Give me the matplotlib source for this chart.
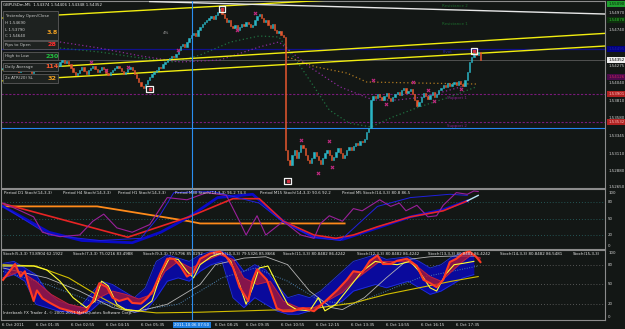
import numpy as np
import matplotlib.pyplot as plt
from matplotlib import font_manager
from matplotlib.patches import Rectangle
from matplotlib.transforms import blended_transform_factory

# --- Configuração da figura ---
W, H = 625, 329
BG = '#131715'
BORDER = '#8c8c8c'
TXT = '#e4e4e4'
UP = '#2ab4c4'
DOWN = '#e4572e'

_names = {f.name for f in font_manager.fontManager.ttflist}
FONT = 'Liberation Sans Narrow' if 'Liberation Sans Narrow' in _names else 'DejaVu Sans'
FS = 3.7 if FONT != 'DejaVu Sans' else 2.9

# --- Dados: GBPUSDm M5 (fechamentos) ---
FIRST_OPEN = 1.54231
CLOSES = [
    1.54244, 1.54271, 1.54218, 1.54258, 1.54297, 1.54271, 1.54231, 1.54192, 1.54218, 1.54258,
    1.54284, 1.54258, 1.54218, 1.54178, 1.54205, 1.54244, 1.54271, 1.54297, 1.54258, 1.54231,
    1.54271, 1.54310, 1.54284, 1.54244, 1.54218, 1.54271, 1.54324, 1.54350, 1.54310, 1.54337,
    1.54297, 1.54244, 1.54192, 1.54152, 1.54178, 1.54218, 1.54258, 1.54205, 1.54165, 1.54218,
    1.54244, 1.54271, 1.54231, 1.54192, 1.54218, 1.54258, 1.54231, 1.54178, 1.54152, 1.54192,
    1.54218, 1.54244, 1.54271, 1.54244, 1.54205, 1.54165, 1.54192, 1.54231, 1.54258, 1.54218,
    1.54165, 1.54112, 1.54060, 1.54007, 1.53980, 1.54033, 1.54086, 1.54126, 1.54165, 1.54192,
    1.54218, 1.54258, 1.54244, 1.54297, 1.54324, 1.54350, 1.54376, 1.54403, 1.54390, 1.54429,
    1.54482, 1.54535, 1.54561, 1.54522, 1.54588, 1.54640, 1.54680, 1.54706, 1.54667, 1.54746,
    1.54786, 1.54825, 1.54852, 1.54878, 1.54904, 1.54931, 1.54891, 1.54944, 1.54984, 1.55023,
    1.54957, 1.54904, 1.54852, 1.54878, 1.54799, 1.54772, 1.54812, 1.54746, 1.54786, 1.54825,
    1.54799, 1.54852, 1.54825, 1.54786, 1.54812, 1.54878, 1.54931, 1.54957, 1.54904, 1.54852,
    1.54878, 1.54812, 1.54772, 1.54825, 1.54746, 1.54706, 1.54733, 1.54680, 1.54654, 1.53162,
    1.53030, 1.52964, 1.53096, 1.53162, 1.53056, 1.53136, 1.53228, 1.53188, 1.53096, 1.53030,
    1.52990, 1.53056, 1.53136, 1.53083, 1.53030, 1.52977, 1.53056, 1.53122, 1.53162, 1.53096,
    1.53030, 1.53070, 1.53136, 1.53188, 1.53122, 1.53056, 1.53096, 1.53162, 1.53202, 1.53162,
    1.53215, 1.53254, 1.53228, 1.53281, 1.53268, 1.53307, 1.53400, 1.53452, 1.53822, 1.53875,
    1.53848, 1.53901, 1.53862, 1.53822, 1.53875, 1.53914, 1.53848, 1.53809, 1.53862, 1.53901,
    1.53928, 1.53888, 1.53954, 1.53980, 1.53914, 1.53941, 1.53967, 1.53901, 1.53822, 1.53743,
    1.53796, 1.53862, 1.53914, 1.53875, 1.53835, 1.53888, 1.53928, 1.53862, 1.53901, 1.53954,
    1.53980, 1.54020, 1.53994, 1.54046, 1.54007, 1.54033, 1.54060, 1.54020, 1.54073, 1.54033,
    1.54007, 1.54086, 1.54192, 1.54324, 1.54390, 1.54442, 1.54416, 1.54456, 1.54352,
]

# linhas horizontais (pivôs) e objetos
PIVOT = 1.54495
SUPPORTS = [1.53901, 1.53532]
BLUE_HLINE = 1.53452
LAST_PRICE = 1.54352
VLINE_BAR = 86.3

# linhas de tendência: (barra inicial, preço inicial, barra final, preço final)
CHANNEL_UP = (0, 1.54221, 275, 1.54702)
CHANNEL_LOW = (0, 1.54075, 275, 1.54535)
CHANNEL_TOP = (0, 1.54904, 275, 1.55342)
WHITE_LINE = (67, 1.55122, 275, 1.54957)

# curvas pontilhadas (envelopes)
GREEN_DOT_X = [26, 44, 63, 78, 90, 104, 117, 126, 136, 143, 149, 158, 168, 178, 190, 204, 216]
GREEN_DOT_Y = [1.54508, 1.54456, 1.54376, 1.54324, 1.54416, 1.54588, 1.54667, 1.54654, 1.54258,
               1.53954, 1.53690, 1.53518, 1.53466, 1.53598, 1.53730, 1.53862, 1.53994]
PURPLE_DOT_X = [26, 44, 63, 81, 99, 117, 126, 140, 154, 169, 180, 192, 204, 212]
PURPLE_DOT_Y = [1.54588, 1.54508, 1.54403, 1.54324, 1.54350, 1.54522, 1.54588, 1.54258, 1.53994,
                1.53822, 1.53822, 1.53862, 1.53954, 1.54020]
ORANGE_DOT_X = [130, 143, 157, 166, 190, 216]
ORANGE_DOT_Y = [1.54390, 1.54258, 1.54178, 1.54060, 1.54046, 1.54033]

# fractais e marcadores
FRACTAL_X = [40, 47, 57, 80, 107, 115, 136, 144, 149, 150, 169, 175, 187, 194, 197, 209]
FRACTAL_Y = [1.54324, 1.54218, 1.54258, 1.54482, 1.54746, 1.54970, 1.53294, 1.52858, 1.53281,
             1.52938, 1.54086, 1.53769, 1.54060, 1.53954, 1.53809, 1.53967]
SWING_X = [67, 100, 130, 215]
SWING_Y = [1.53967, 1.55023, 1.52753, 1.54469]

PRICE_TICKS = [1.54970, 1.54740, 1.54505, 1.54275, 1.54040, 1.53810, 1.53580, 1.53345, 1.53110,
               1.52880, 1.52650]
BOX_PRICES = [1.55090, 1.54878, 1.54495, 1.54352, 1.54126, 1.53901, 1.53532]
BOX_BG = ['#1f9f2f', '#0c300c', '#000080', '#f0f0f0', '#4a0a4a', '#b02222', '#b02222']
BOX_FG = ['#062006', '#2ec02e', '#2020a8', '#000000', '#d02060', '#ffb8b8', '#ffb8b8']

# --- Painel 1: Stoch multi-período ---
P1_D1_X = [0, 43, 85, 90, 156]
P1_D1_Y = [72, 72, 45, 41, 41]
P1_H4_X = [0, 57, 85, 105, 117, 128, 142, 152, 160, 171, 186, 201, 212]
P1_H4_Y = [77, 16, 53, 86, 86, 45, 20, 14, 20, 35, 53, 64, 82]
P1_H1_X = [0, 21, 36, 59, 72, 85, 98, 114, 128, 142, 155, 171, 186, 201, 212]
P1_H1_Y = [72, 25, 10, 6, 25, 53, 88, 94, 45, 16, 12, 33, 53, 66, 82]
P1_M30_X = [0, 21, 44, 63, 72, 78, 96, 117, 128, 142, 154, 171, 186, 204, 212]
P1_M30_Y = [72, 20, 10, 14, 58, 97, 99, 78, 43, 16, 10, 72, 88, 94, 92]
P1_M5_X = [0, 8, 14, 18, 26, 35, 41, 46, 52, 59, 67, 75, 84, 93, 102, 108, 111, 116, 120, 128,
           136, 142, 145, 149, 155, 160, 164, 172, 177, 181, 184, 189, 194, 198, 201, 207, 212,
           215, 217]
P1_M5_Y = [78, 64, 53, 25, 17, 20, 45, 58, 33, 25, 39, 88, 84, 97, 92, 45, 20, 55, 20, 45,
           20, 14, 41, 55, 45, 68, 64, 84, 72, 78, 64, 74, 53, 55, 74, 97, 94, 100, 99]
P1_SIG_X = [212, 217]
P1_SIG_Y = [82, 92]
P1_TITLES = ['Period D1 Stoch(14,3,3)', 'Period H4 Stoch(14,3,3)', 'Period H1 Stoch(14,3,3)',
             'Period M30 Stoch(14,3,3) 96.2 74.3', 'Period M15 Stoch(14,3,3) 90.6 92.2',
             'Period M5 Stoch(14,3,3) 80.8 86.5']

# --- Painel 2: fita de estocásticos ---
P2_FAST_X = [0, 3, 5.5, 8, 10, 12, 14, 15.5, 18, 21.5, 26, 31, 35, 38, 41, 44, 47.5, 50, 53, 57,
             59, 63, 66, 68.5, 72, 75, 78, 81, 84, 87, 90, 94.5, 99, 102, 105, 108, 112, 114, 116,
             120.5, 125, 128, 132, 137, 142, 146, 152.5, 157, 160, 164, 167.5, 171, 173.5, 177,
             180, 184.5, 189, 192, 195, 198, 201, 204, 207, 210, 213, 216, 218]
P2_FAST_Y = [57, 70, 81, 62, 70, 46, 25, 41, 29, 22, 14, 9.5, 6, 9.5, 25, 52, 46, 30, 25, 29,
             22, 21, 30, 41, 68, 89, 89, 78, 62, 68, 89, 97, 100, 92, 76, 46, 25, 57, 73,
             57, 14, 9.5, 9.5, 14, 9.5, 21, 41, 57, 70, 68, 86, 94, 81, 81,
             86, 89, 78, 57, 52, 46, 57, 84, 89, 97, 100, 92, 84]
P2_SLOW_X = [0, 8, 15, 22, 30, 38, 44, 50, 56, 62, 68, 74, 80, 86, 92, 99, 105, 110, 116, 122,
             128, 135, 142, 148, 155, 160, 166, 172, 178, 185, 190, 195, 200, 205, 210, 214, 218]
P2_SLOW_Y = [60, 70, 55, 35, 20, 14, 30, 40, 35, 28, 35, 70, 85, 75, 85, 95, 88, 60, 50, 55,
             25, 15, 15, 25, 38, 55, 70, 85, 85, 84, 75, 62, 55, 70, 85, 95, 90]
P2_BLUE_X = [0, 5, 10, 15, 20, 25, 30, 35, 40, 45, 50, 55, 60, 65, 70, 75, 80, 85, 90, 95, 100,
             105, 110, 115, 120, 125, 130, 135, 140, 145, 150, 155, 160, 165, 170, 175, 180, 185,
             190, 195, 200, 205, 210, 215]
P2_BLUE_HI = [82, 85, 75, 65, 40, 25, 20, 15, 35, 55, 50, 40, 30, 45, 85, 95, 90, 85, 95, 100,
              100, 92, 70, 80, 72, 50, 30, 35, 30, 40, 55, 70, 85, 90, 95, 88, 90, 92, 85, 75,
              80, 92, 98, 95]
P2_BLUE_LO = [60, 65, 55, 20, 15, 10, 8, 5, 10, 25, 20, 15, 8, 10, 30, 55, 60, 55, 70, 80,
              85, 30, 15, 30, 20, 10, 5, 5, 10, 15, 18, 25, 40, 45, 50, 45, 50, 55, 45, 35,
              40, 50, 60, 65]
P2_YEL_X = [0, 14, 20, 26, 32, 38, 42, 45, 48, 52, 56, 62, 68, 72, 76, 80, 84, 87, 90, 95, 100,
            104, 108, 111, 114, 117, 121, 126, 130, 134, 140, 144, 147, 152, 158, 164, 170, 175,
            180, 186, 190, 195, 198, 202, 206, 210, 215]
P2_YEL_Y = [78, 78, 72, 55, 30, 15, 25, 55, 48, 20, 12, 10, 25, 65, 90, 88, 70, 60, 80, 92, 98,
            85, 50, 20, 45, 75, 78, 45, 20, 12, 10, 30, 10, 20, 45, 70, 85, 82,
            80, 85, 70, 45, 40, 65, 80, 82, 85]
P2_GRAY_X = [0, 20, 35, 50, 60, 75, 90, 97, 110, 120, 130, 140, 150, 155, 165, 175, 185, 195, 205, 216]
P2_GRAY_Y = [75, 60, 40, 15, 8, 20, 50, 80, 90, 92, 80, 40, 15, 12, 30, 60, 88, 92, 93, 93]
P2_OLIVE_X = [0, 15, 30, 45, 55, 70, 90, 110, 130, 145, 160, 175, 190, 205, 217]
P2_OLIVE_Y = [80, 78, 60, 30, 12, 7, 8, 10, 12, 15, 22, 35, 45, 55, 62]
P2_STEEL_X = [0, 20, 40, 60, 80, 100, 115, 130, 145, 160, 175, 190, 205, 217]
P2_STEEL_Y = [70, 50, 25, 10, 20, 60, 75, 55, 25, 20, 40, 60, 70, 78]
P2_TITLES = ['Stoch(5,3,3) 73.8904 62.1922', 'Stoch(7,3,3) 75.0216 83.4988',
             'Stoch(9,3,3) 77.5796 85.0292', 'Stoch(10,3,3) 79.5326 85.8666',
             'Stoch(11,3,3) 80.8482 86.4242', 'Stoch(12,3,3) 80.8482 86.4242',
             'Stoch(13,3,3) 80.8482 86.4242', 'Stoch(14,3,3) 80.8482 86.5481', 'Stoch(15,3,3)']

# --- Eixo do tempo ---
TIME_BARS = [-0.5, 15, 31, 47, 63, 97, 111, 127, 143, 159, 175, 191, 207]
TIME_LABELS = ['6 Oct 2011', '6 Oct 01:35', '6 Oct 02:55', '6 Oct 04:15', '6 Oct 05:35',
               '6 Oct 08:25', '6 Oct 09:35', '6 Oct 10:55', '6 Oct 12:15', '6 Oct 13:35',
               '6 Oct 14:55', '6 Oct 16:15', '6 Oct 17:35']
CURSOR_LABEL = '2011.10.06 07:50'

X_LEFT, X_RIGHT = 1.5, 604.5
BAR0_PX, BAR_PX = 3.0, 2.19


def bar_at(px):
    return (px - BAR0_PX) / BAR_PX


fig = plt.figure(figsize=(W / 100, H / 100), dpi=100, facecolor=BG)


def pane(top, bottom, ylim):
    ax = fig.add_axes([X_LEFT / W, 1 - bottom / H, (X_RIGHT - X_LEFT) / W, (bottom - top) / H])
    ax.set_facecolor(BG)
    ax.set_xlim(bar_at(X_LEFT), bar_at(X_RIGHT))
    ax.set_ylim(*ylim)
    ax.set_xticks([])
    ax.set_yticks([])
    for s in ax.spines.values():
        s.set_color(BORDER)
        s.set_linewidth(0.8)
    return ax


def right_label(ax, y, s, bg=None, fg=TXT, va='center'):
    tr = blended_transform_factory(ax.transAxes, ax.transData)
    kw = dict(transform=tr, va=va, ha='left', fontsize=FS, color=fg,
              family=FONT, clip_on=False)
    if bg:
        kw['bbox'] = dict(boxstyle='square,pad=0.25', fc=bg, ec='none')
    ax.text(1.006, y, s, **kw)


def trend(ax, line, **kw):
    ax.plot([line[0], line[2]], [line[1], line[3]], **kw)


# ---------------- gráfico principal ----------------
ax = pane(1, 187.5, (1.52667, 1.55129))
closes = np.array(CLOSES)
opens = np.concatenate([[FIRST_OPEN], closes[:-1]])
idx = np.arange(len(closes))
cols = [UP if c >= o else DOWN for o, c in zip(opens, closes)]
ax.bar(idx, closes - opens, bottom=opens, width=0.6, color=cols, edgecolor=cols,
       linewidth=0.4, zorder=4)

ax.axhline(PIVOT, color='#10108c', lw=0.9, zorder=2)
for s in SUPPORTS:
    ax.axhline(s, color='#7a1a7a', lw=0.8, ls=(0, (2, 1.5)), zorder=2)
ax.axhline(BLUE_HLINE, color='#2585f0', lw=0.8, zorder=2)
ax.axhline(LAST_PRICE, color='#5a5a5a', lw=0.6, zorder=2)

trend(ax, CHANNEL_UP, color='#f2ee10', lw=1.0, zorder=3)
trend(ax, CHANNEL_LOW, color='#f2ee10', lw=1.0, zorder=3)
trend(ax, CHANNEL_TOP, color='#f2ee10', lw=1.0, zorder=3)
trend(ax, WHITE_LINE, color='#e8e8e8', lw=1.0, zorder=3)

ax.plot(GREEN_DOT_X, GREEN_DOT_Y, color='#1f7040', lw=0.9, ls=(0, (1, 2)), zorder=2)
ax.plot(PURPLE_DOT_X, PURPLE_DOT_Y, color='#8a2a9a', lw=0.9, ls=(0, (1, 2)), zorder=2)
ax.plot(ORANGE_DOT_X, ORANGE_DOT_Y, color='#b07a20', lw=0.9, ls=(0, (1, 2)), zorder=2)

ax.scatter(FRACTAL_X, FRACTAL_Y, marker='x', s=5, color='#c02a80', linewidths=0.8, zorder=5)
ax.scatter(SWING_X, SWING_Y, marker='s', s=22, facecolor='none', edgecolor='#f4f4f4',
           linewidths=0.9, zorder=5)
ax.scatter(SWING_X, SWING_Y, marker='s', s=2, color='#d03040', zorder=6)

for p in PRICE_TICKS:
    right_label(ax, p, f'{p:.5f}', fg='#d0d0d0',
                va='bottom' if p == PRICE_TICKS[-1] else 'center')
for p, bg, fg in zip(BOX_PRICES, BOX_BG, BOX_FG):
    right_label(ax, p, f'{p:.5f}', bg=bg, fg=fg)

# ---------------- painel 1 ----------------
ax1 = pane(188.5, 248.5, (-4.5, 104.5))
for lv in (80, 50, 20):
    ax1.axhline(lv, color='#2a6a6a', lw=0.6, ls=(0, (1, 2.5)))
ax1.plot(P1_D1_X, P1_D1_Y, color='#ff8a1a', lw=1.3)
ax1.plot(P1_H1_X, P1_H1_Y, color='#0a0ac8', lw=2.0)
ax1.plot(P1_H4_X, P1_H4_Y, color='#e82424', lw=1.2)
ax1.plot(P1_M30_X, P1_M30_Y, color='#2020e0', lw=0.7)
ax1.plot(P1_M5_X, P1_M5_Y, color='#9a209a', lw=0.8)
ax1.plot(P1_SIG_X, P1_SIG_Y, color='#b8e8f8', lw=1.0)
for v in (100, 80, 50, 20, 0):
    right_label(ax1, v, str(v), fg='#d0d0d0', va='top' if v == 100 else 'center')

# ---------------- painel 2 ----------------
ax2 = pane(249.5, 320, (-3.8, 103))
for lv in (80, 50, 20):
    ax2.axhline(lv, color='#6a6a6a', lw=0.6, ls=(0, (1, 2.5)), zorder=1)
ax2.fill_between(P2_BLUE_X, P2_BLUE_LO, P2_BLUE_HI, color='#0a0a9c', lw=0, zorder=2)
ax2.plot(P2_BLUE_X, P2_BLUE_HI, color='#2030e0', lw=0.6, zorder=2)
ax2.plot(P2_BLUE_X, P2_BLUE_LO, color='#2030e0', lw=0.6, zorder=2)
ax2.plot(P2_STEEL_X, P2_STEEL_Y, color='#4a80b0', lw=0.7, ls=(0, (1, 1.5)), zorder=3)
ax2.plot(P2_GRAY_X, P2_GRAY_Y, color='#b4b4b4', lw=0.6, zorder=3)
ax2.plot(P2_OLIVE_X, P2_OLIVE_Y, color='#d2be00', lw=0.8, zorder=3)
ax2.fill(np.concatenate([P2_FAST_X, P2_SLOW_X[::-1]]),
         np.concatenate([P2_FAST_Y, P2_SLOW_Y[::-1]]),
         facecolor='#b01830', edgecolor='none', alpha=0.75, hatch='xxxx', zorder=3)
ax2.plot(P2_SLOW_X, P2_SLOW_Y, color='#c02040', lw=0.7, zorder=4)
ax2.plot(P2_YEL_X, P2_YEL_Y, color='#ffff30', lw=0.8, zorder=4)
ax2.plot(P2_FAST_X, P2_FAST_Y, color='#ff3a22', lw=1.5, zorder=5)
for v in (100, 80, 50, 20, 0):
    right_label(ax2, v, str(v), fg='#d0d0d0', va='top' if v == 100 else 'center')

for a in (ax, ax1, ax2):
    a.axvline(VLINE_BAR, color='#2a8ef0', lw=0.8, zorder=6)

# ---------------- textos (coordenadas em pixels) ----------------
ov = fig.add_axes([0, 0, 1, 1])
ov.set_xlim(0, W)
ov.set_ylim(H, 0)
ov.axis('off')
ov.patch.set_alpha(0)


def t(x, y, s, color=TXT, size=FS, **kw):
    ov.text(x, y, s, color=color, fontsize=size, family=FONT, va='center', ha='left', **kw)


t(3, 5, 'GBPUSDm,M5  1.54374 1.54406 1.54348 1.54352')

# painel de informações
for y0, y1 in [(11, 40), (41, 49), (52, 60), (63, 71), (74, 83)]:
    ov.add_patch(Rectangle((3, y0), 55, y1 - y0, fc='#1e2220', ec='#5a5a5a', lw=0.6))
t(5, 16, 'Yesterday Open/Close', color='#c8c8c8')
t(5, 23, 'H 1.54690', color='#c8c8c8')
t(5, 30, 'L 1.53790', color='#c8c8c8')
t(5, 36, 'C 1.54640', color='#c8c8c8')
t(47, 33, '3.8', color='#f0a020', size=FS * 1.6, fontweight='bold')
t(5, 45, 'Pips to Open', color='#c8c8c8')
t(47, 45, '28', color='#ff3030', size=FS * 1.6, fontweight='bold')
t(5, 56, 'High to Low', color='#c8c8c8')
t(45, 56, '230', color='#22c040', size=FS * 1.6, fontweight='bold')
t(5, 67, 'Daily Average', color='#c8c8c8')
t(45, 67, '114', color='#ff5a30', size=FS * 1.6, fontweight='bold')
t(5, 78, '2x ATR(20) SL', color='#c8c8c8')
t(48, 78, '32', color='#f0a020', size=FS * 1.6, fontweight='bold')

t(163, 33, '4%', color='#a0a0a0')
t(442, 6, 'Resistance 2', color='#1c6a2c')
t(442, 24, 'Resistance 1', color='#1c6a2c')
t(443, 52, 'Pivot', color='#2020b0')
t(447, 98, 'Support 1', color='#8a2090')
t(447, 126, 'Support 2', color='#8a2090')

for x, s in zip([4, 63, 118, 175, 260, 342], P1_TITLES):
    t(x, 193, s)
for x, s in zip([3, 73, 143, 213, 283, 357, 428, 500, 573], P2_TITLES):
    t(x, 254, s)
t(3, 313, 'Interbank FX Trader 4, \u00a9 2001-2011 MetaQuotes Software Corp.')

for b, s in zip(TIME_BARS, TIME_LABELS):
    t(BAR0_PX + BAR_PX * b, 325, s)
ov.text(BAR0_PX + BAR_PX * VLINE_BAR, 325, CURSOR_LABEL, color='white', fontsize=FS,
        family=FONT, va='center', ha='center',
        bbox=dict(boxstyle='square,pad=0.3', fc='#1c7de0', ec='none'))

fig.savefig('out.png', dpi=100, facecolor=BG)
